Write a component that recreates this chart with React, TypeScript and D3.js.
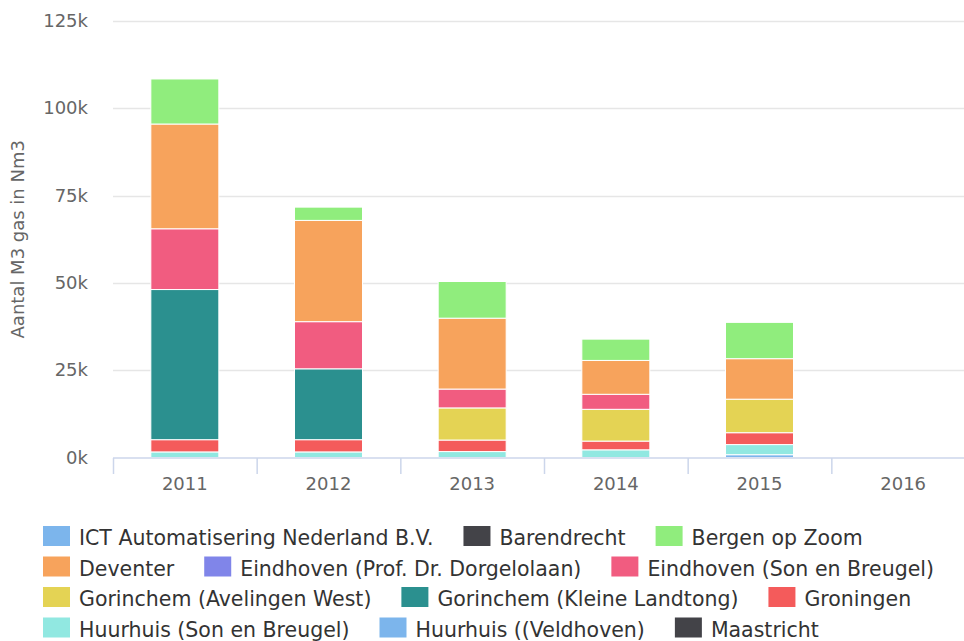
import React, { useLayoutEffect, useRef, useState } from 'react';
import * as d3 from 'd3';

const years = ['2011', '2012', '2013', '2014', '2015', '2016'];

const seriesNames = [
  'ICT Automatisering Nederland B.V.',
  'Barendrecht',
  'Bergen op Zoom',
  'Deventer',
  'Eindhoven (Prof. Dr. Dorgelolaan)',
  'Eindhoven (Son en Breugel)',
  'Gorinchem (Avelingen West)',
  'Gorinchem (Kleine Landtong)',
  'Groningen',
  'Huurhuis (Son en Breugel)',
  'Huurhuis ((Veldhoven)',
  'Maastricht',
];

const colors = [
  '#7cb5ec', '#434348', '#90ed7d', '#f7a35c', '#8085e9', '#f15c80',
  '#e4d354', '#2b908f', '#f45b5b', '#91e8e1', '#7cb5ec', '#434348',
];

// values per year, in Nm3
const ict = [0, 0, 0, 0, 0, 0];
const barendrecht = [0, 0, 0, 0, 0, 0];
const bergenOpZoom = [12900, 3800, 10500, 6100, 10400, 0];
const deventer = [30000, 29000, 20300, 9700, 11600, 0];
const eindhovenProf = [0, 0, 0, 0, 0, 0];
const eindhovenSon = [17400, 13500, 5400, 4300, 0, 0];
const gorinchemAvelingen = [0, 0, 9200, 9100, 9600, 0];
const gorinchemKleine = [43000, 20300, 0, 0, 0, 0];
const groningen = [3500, 3500, 3300, 2500, 3400, 0];
const huurhuisSon = [1600, 1600, 1700, 2200, 2900, 0];
const huurhuisVeldhoven = [0, 0, 0, 0, 800, 0];
const maastricht = [0, 0, 0, 0, 0, 0];

const seriesValues = [
  ict, barendrecht, bergenOpZoom, deventer, eindhovenProf, eindhovenSon,
  gorinchemAvelingen, gorinchemKleine, groningen, huurhuisSon, huurhuisVeldhoven, maastricht,
];

const yTicks = [0, 25000, 50000, 75000, 100000, 125000];

export default function App() {
  const width = 964;
  const height = 641;
  const plotLeft = 113;
  const plotRight = 975;
  const plotTop = 21;
  const plotBottom = 457.5;

  const legendRefs = useRef<(SVGTextElement | null)[]>([]);
  const [textWidths, setTextWidths] = useState<number[] | null>(null);

  useLayoutEffect(() => {
    const w = legendRefs.current.map(t => (t ? t.getComputedTextLength() : 0));
    setTextWidths(w);
  }, []);

  const x = d3.scaleBand().domain(years).range([plotLeft, plotRight]);
  const y = d3.scaleLinear().domain([0, 125000]).range([plotBottom, plotTop]);
  const barW = 68;

  // Highcharts stacks the first series on top, so stack in reverse
  const rows = years.map((yr, i) => {
    const r: any = { year: yr };
    seriesNames.forEach((s, j) => { r[s] = seriesValues[j][i]; });
    return r;
  });
  const stack = d3.stack<any>().keys([...seriesNames].reverse())(rows);

  // legend layout
  const symW = 27, symH = 20, textOff = 36, gap = 30, rowH = 30.5;
  const legendX0 = 43, legendY0 = 526, maxRight = 950;
  const legendPos: { x: number; y: number }[] = [];
  if (textWidths) {
    let cx = legendX0, cy = legendY0;
    seriesNames.forEach((s, i) => {
      const itemW = textOff + textWidths[i];
      if (cx > legendX0 && cx + itemW > maxRight) {
        cx = legendX0;
        cy += rowH;
      }
      legendPos.push({ x: cx, y: cy });
      cx += itemW + gap;
    });
  }

  const font = 'DejaVu Sans, sans-serif';

  return (
    <svg width={width} height={height} style={{ position: 'absolute', left: 0, top: 0, background: '#fff' }}>
      {/* grid */}
      {yTicks.slice(1).map(t => (
        <line key={t} x1={plotLeft} x2={plotRight} y1={Math.round(y(t)) + 0.5} y2={Math.round(y(t)) + 0.5}
          stroke="#e6e6e6" strokeWidth={1.5} />
      ))}
      {/* y labels */}
      {yTicks.map(t => (
        <text key={t} x={88} y={y(t) + 6} textAnchor="end" fontFamily={font} fontSize={18} fill="#666666">
          {t / 1000 + 'k'}
        </text>
      ))}
      <text transform={`translate(24, ${(plotTop + plotBottom) / 2}) rotate(-90)`} textAnchor="middle"
        fontFamily={font} fontSize={18} fill="#666666">Aantal M3 gas in Nm3</text>

      {/* bars */}
      {stack.map(layer => {
        const idx = seriesNames.indexOf(layer.key);
        return (
          <g key={layer.key} fill={colors[idx]}>
            {layer.map((d, i) => {
              if (d[1] - d[0] <= 0) return null;
              const bx = (x(years[i]) as number) + (x.bandwidth() - barW) / 2;
              return (
                <rect key={i} x={bx} y={y(d[1])} width={barW} height={y(d[0]) - y(d[1])}
                  stroke="#ffffff" strokeWidth={1} />
              );
            })}
          </g>
        );
      })}

      {/* x axis */}
      <line x1={plotLeft} x2={plotRight} y1={458} y2={458} stroke="#ccd6eb" strokeWidth={1.5} />
      {years.map(yr => (
        <line key={yr} x1={(x(yr) as number) + 0.5} x2={(x(yr) as number) + 0.5} y1={458} y2={474}
          stroke="#ccd6eb" strokeWidth={1.5} />
      ))}
      {years.map(yr => (
        <text key={yr} x={(x(yr) as number) + x.bandwidth() / 2} y={490} textAnchor="middle"
          fontFamily={font} fontSize={18} fill="#666666">{yr}</text>
      ))}

      {/* legend */}
      {seriesNames.map((s, i) => {
        const p = legendPos[i] || { x: 0, y: -100 };
        return (
          <g key={s} transform={`translate(${p.x}, ${p.y})`}>
            <rect x={0} y={0} width={symW} height={symH} fill={colors[i]} />
            <text ref={el => { legendRefs.current[i] = el; }} x={textOff} y={19}
              fontFamily={font} fontSize={20.5} fill="#333333">{s}</text>
          </g>
        );
      })}
    </svg>
  );
}
